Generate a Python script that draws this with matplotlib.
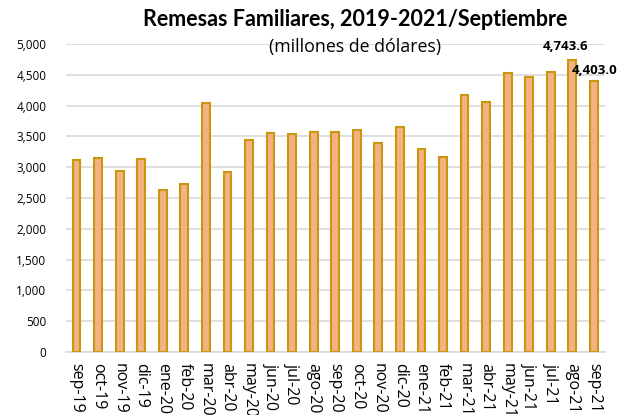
import matplotlib.pyplot as plt
from matplotlib.ticker import FuncFormatter

# Remesas familiares mensuales, millones de dolares
months = ["sep-19", "oct-19", "nov-19", "dic-19", "ene-20", "feb-20", "mar-20",
          "abr-20", "may-20", "jun-20", "jul-20", "ago-20", "sep-20", "oct-20",
          "nov-20", "dic-20", "ene-21", "feb-21", "mar-21", "abr-21", "may-21",
          "jun-21", "jul-21", "ago-21", "sep-21"]
values = [3112, 3154, 2933, 3128, 2635, 2732, 4047, 2917, 3442, 3550, 3539,
          3576, 3576, 3609, 3398, 3657, 3295, 3170, 4167, 4063, 4529, 4469,
          4545, 4743.6, 4403.0]
labels = {23: "4,743.6", 24: "4,403.0"}
yticks = list(range(0, 5001, 500))

fig = plt.figure(figsize=(6.26, 4.15), dpi=100)
ax = fig.add_axes([0.105, 0.152, 0.861, 0.742])

x = range(len(months))
ax.bar(x, values, width=0.36, color="#F4B183", edgecolor="#C9980F",
       linewidth=1.5, zorder=3)

ax.set_xlim(-0.5, len(months) - 0.5)
ax.set_ylim(0, 5000)
ax.set_yticks(yticks)
ax.yaxis.set_major_formatter(FuncFormatter(lambda v, p: f"{int(v):,}"))
ax.set_xticks(list(x))
ax.set_xticklabels(months, rotation=-90, fontsize=11.5, va="top",
                   family="Open Sans")
ax.tick_params(axis="y", labelsize=8.5, length=0, pad=14)
ax.tick_params(axis="x", length=0, pad=8)
for t in ax.get_yticklabels():
    t.set_family("Open Sans")

ax.grid(axis="y", color="#D9D9D9", linewidth=1.2, zorder=0)
for s in ["top", "right", "left"]:
    ax.spines[s].set_visible(False)
ax.spines["bottom"].set_color("#D9D9D9")
ax.spines["bottom"].set_linewidth(1.2)

# etiquetas de los ultimos meses
ax.text(22.7, values[23] + 210, labels[23], ha="center", va="center",
        fontsize=9.5, fontweight="bold", family="Open Sans", zorder=4)
ax.text(24.05, values[24] + 160, labels[24], ha="center", va="center",
        fontsize=9.5, fontweight="bold", family="Open Sans", zorder=4)

fig.text(0.567, 0.952, "Remesas Familiares, 2019-2021/Septiembre",
         ha="center", va="center", fontsize=15.5, fontweight="bold",
         family="Lato")
fig.text(0.567, 0.886, "(millones de dólares)", ha="center", va="center",
         fontsize=12.8, family="Open Sans")

fig.savefig("out.png", dpi=100)
